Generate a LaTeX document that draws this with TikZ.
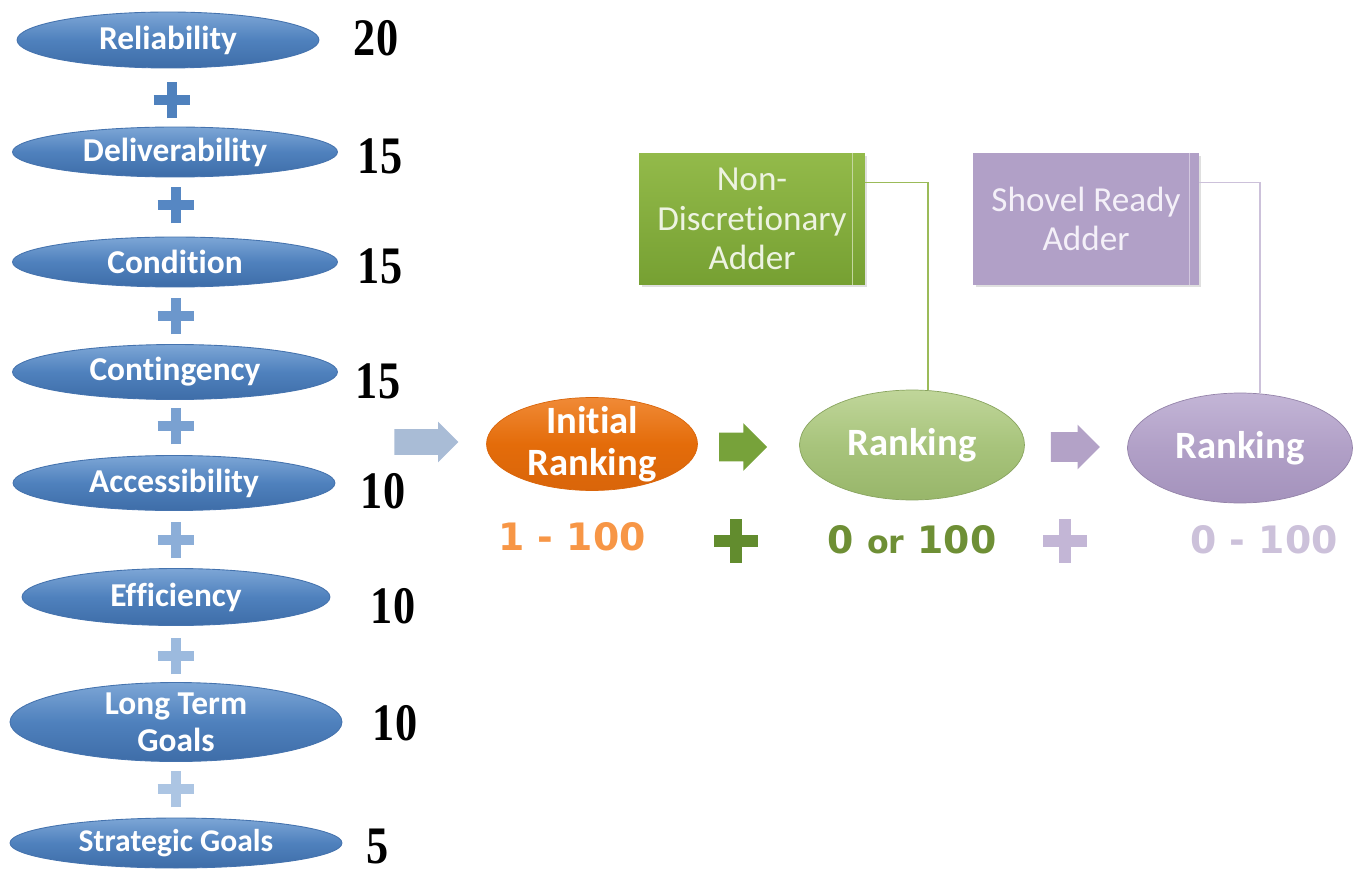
\documentclass[tikz,border=0pt]{standalone}
\usepackage{fontspec}
\setmainfont{Carlito}[Ligatures=NoCommon]
\newfontfamily\numfont{Liberation Serif}
\newfontfamily\scorefont{DejaVu Sans}
\usetikzlibrary{shapes.geometric,shapes.arrows,shapes.misc,shadows}
\definecolor{bluetop}{HTML}{7DA6D6}
\definecolor{bluemid}{HTML}{4F81BD}
\definecolor{bluebot}{HTML}{3E6DA8}
\definecolor{blueedge}{HTML}{4573AE}
\definecolor{plusA}{HTML}{4F81BD}
\definecolor{plusB}{HTML}{5687C3}
\definecolor{plusC}{HTML}{6C97CC}
\definecolor{plusD}{HTML}{7AA1D1}
\definecolor{plusE}{HTML}{8CAED8}
\definecolor{plusF}{HTML}{9CBADE}
\definecolor{plusG}{HTML}{ACC5E3}
\definecolor{arrowblue}{HTML}{A9BCD6}
\definecolor{orgtop}{HTML}{F08A36}
\definecolor{orgmid}{HTML}{E46C0A}
\definecolor{orgbot}{HTML}{D9650A}
\definecolor{orglabel}{HTML}{F79646}
\definecolor{grnarrow}{HTML}{77A23A}
\definecolor{grntop}{HTML}{C0D69A}
\definecolor{grnmid}{HTML}{A8C47C}
\definecolor{grnbot}{HTML}{98B66A}
\definecolor{grnbox}{HTML}{86AE3C}
\definecolor{grnboxtop}{HTML}{93BA4A}
\definecolor{grnboxbot}{HTML}{76A032}
\definecolor{grntext}{HTML}{EDF3E1}
\definecolor{grnlabel}{HTML}{6E8F35}
\definecolor{grnplus}{HTML}{628C2E}
\definecolor{grnline}{HTML}{9BBB59}
\definecolor{purarrow}{HTML}{B3A2C7}
\definecolor{purtop}{HTML}{C3B5D6}
\definecolor{purmid}{HTML}{B1A0C7}
\definecolor{purbot}{HTML}{A492BC}
\definecolor{purbox}{HTML}{B1A0C7}
\definecolor{purtext}{HTML}{F4F0F8}
\definecolor{purplus}{HTML}{C3B6D6}
\definecolor{purlabel}{HTML}{CCC1DA}
\definecolor{purline}{HTML}{CCC1DA}
\newcommand{\narrownum}[1]{\scalebox{0.84}[1]{#1}}
\begin{document}
\begin{tikzpicture}[x=0.02cm,y=-0.02cm,
  crit/.style={ellipse, inner sep=0pt, top color=bluetop, bottom color=bluebot, middle color=bluemid,
    draw=blueedge, line width=0.5pt, text=white, font=\fontsize{19}{21}\selectfont\bfseries, align=center},
  num/.style={font=\numfont\fontsize{30}{30}\selectfont\bfseries, text=black},
  plussign/.style={cross out, draw=#1, line width=0.19cm, minimum size=0.33cm, inner sep=0pt, rotate=45},
  bigplus/.style={cross out, draw=#1, line width=0.23cm, minimum size=0.38cm, inner sep=0pt, rotate=45},
  blockarrow/.style={single arrow, fill=#1, inner xsep=0pt, shape border rotate=0},
  rank/.style={ellipse, inner sep=0pt, text=white, font=\fontsize{22}{24}\selectfont\bfseries, align=center,
    minimum width=4.5cm, minimum height=2.2cm},
  adder/.style={rectangle, minimum width=4.52cm, minimum height=2.64cm, inner sep=0pt, align=center,
    font=\fontsize{20}{22.5}\selectfont, drop shadow={opacity=0.25, shadow xshift=0.05cm, shadow yshift=-0.05cm}},
  score/.style={font=\scorefont\fontsize{21.5}{24}\selectfont\bfseries}
]
\useasboundingbox (0,0) rectangle (1361,878);

% criteria ellipses
\node[crit, minimum width=6.04cm, minimum height=1.12cm] (c1) at (168,40) {Reliability};
\node[crit, minimum width=6.5cm, minimum height=1.0cm] (c2) at (175,152) {Deliverability};
\node[crit, minimum width=6.5cm, minimum height=1.0cm] (c3) at (175,262) {Condition};
\node[crit, minimum width=6.5cm, minimum height=1.1cm] (c4) at (175,372) {Contingency};
\node[crit, minimum width=6.44cm, minimum height=1.1cm] (c5) at (174,483) {Accessibility};
\node[crit, minimum width=6.16cm, minimum height=1.14cm] (c6) at (176,597) {Efficiency};
\node[crit, minimum width=6.64cm, minimum height=1.58cm, inner ysep=-8pt] (c7) at (176,722) {Long Term\\Goals};
\node[crit, minimum width=6.64cm, minimum height=1.0cm, font=\fontsize{18}{20}\selectfont\bfseries] (c8) at (176,843) {Strategic Goals};

% plus signs
\node[plussign=plusA] (p1) at (172,100) {};
\node[plussign=plusB] (p2) at (176,205) {};
\node[plussign=plusC] (p3) at (176,316) {};
\node[plussign=plusD] (p4) at (176,426) {};
\node[plussign=plusE] (p5) at (176,540) {};
\node[plussign=plusF] (p6) at (176,656) {};
\node[plussign=plusG] (p7) at (176,789) {};

% weights
\node[num] (n1) at (376,38) {\narrownum{20}};
\node[num] (n2) at (380,156) {\narrownum{15}};
\node[num] (n3) at (380,266) {\narrownum{15}};
\node[num] (n4) at (378,381) {\narrownum{15}};
\node[num] (n5) at (383,491) {\narrownum{10}};
\node[num] (n6) at (393,606) {\narrownum{10}};
\node[num] (n7) at (395,723) {\narrownum{10}};
\node[num] (n8) at (378,846) {\narrownum{5}};

% block arrows
\node[blockarrow=arrowblue, minimum height=1.28cm, inner ysep=0.25cm, single arrow head extend=0.15cm] (a1) at (420,442) {};
\node[blockarrow=grnarrow, minimum height=0.96cm, inner ysep=0.28cm, single arrow head extend=0.19cm] (a2) at (736,447) {};
\node[blockarrow=purarrow, minimum height=0.98cm, inner ysep=0.29cm, single arrow head extend=0.15cm] (a3) at (1068,447) {};

% ranking ellipses
\node[rank, minimum width=4.22cm, minimum height=1.86cm, inner ysep=-8pt, top color=orgtop, bottom color=orgbot, middle color=orgmid,
  draw=orgbot] (r1) at (592,444) {Initial\\Ranking};
\node[rank, top color=grntop, bottom color=grnbot, middle color=grnmid, draw=grnbot!90!black] (r2) at (912,445) {Ranking};
\node[rank, top color=purtop, bottom color=purbot, middle color=purmid, draw=purbot!90!black] (r3) at (1240,448) {Ranking};

% adder boxes
\node[adder, top color=grnboxtop, bottom color=grnboxbot, text=grntext] (b1) at (752,219) {Non-\\Discretionary\\Adder};
\node[adder, fill=purbox, text=purtext] (b2) at (1086,219) {Shovel Ready\\Adder};
\draw[grntext!60!grnbox, line width=0.6pt] ([xshift=-0.26cm]b1.north east) -- ([xshift=-0.26cm]b1.south east);
\draw[purtext!50!purbox, line width=0.6pt] ([xshift=-0.2cm]b2.north east) -- ([xshift=-0.2cm]b2.south east);

% connectors
\draw[grnline, line width=0.8pt] ([yshift=-0.6cm]b1.north east) -| ([xshift=0.32cm]r2.north);
\draw[purline, line width=0.8pt] ([yshift=-0.6cm]b2.north east) -| ([xshift=0.4cm]r3.north);

% bottom scores
\node[score, text=orglabel] (s1) at (572,537) {1 - 100};
\node[bigplus=grnplus] (q1) at (736,541) {};
\node[score, text=grnlabel] (s2) at (912,540) {0 {\fontsize{18}{20}\selectfont or} 100};
\node[bigplus=purplus] (q2) at (1065,541) {};
\node[score, text=purlabel] (s3) at (1264,540) {0 - 100};
\end{tikzpicture}
\end{document}
